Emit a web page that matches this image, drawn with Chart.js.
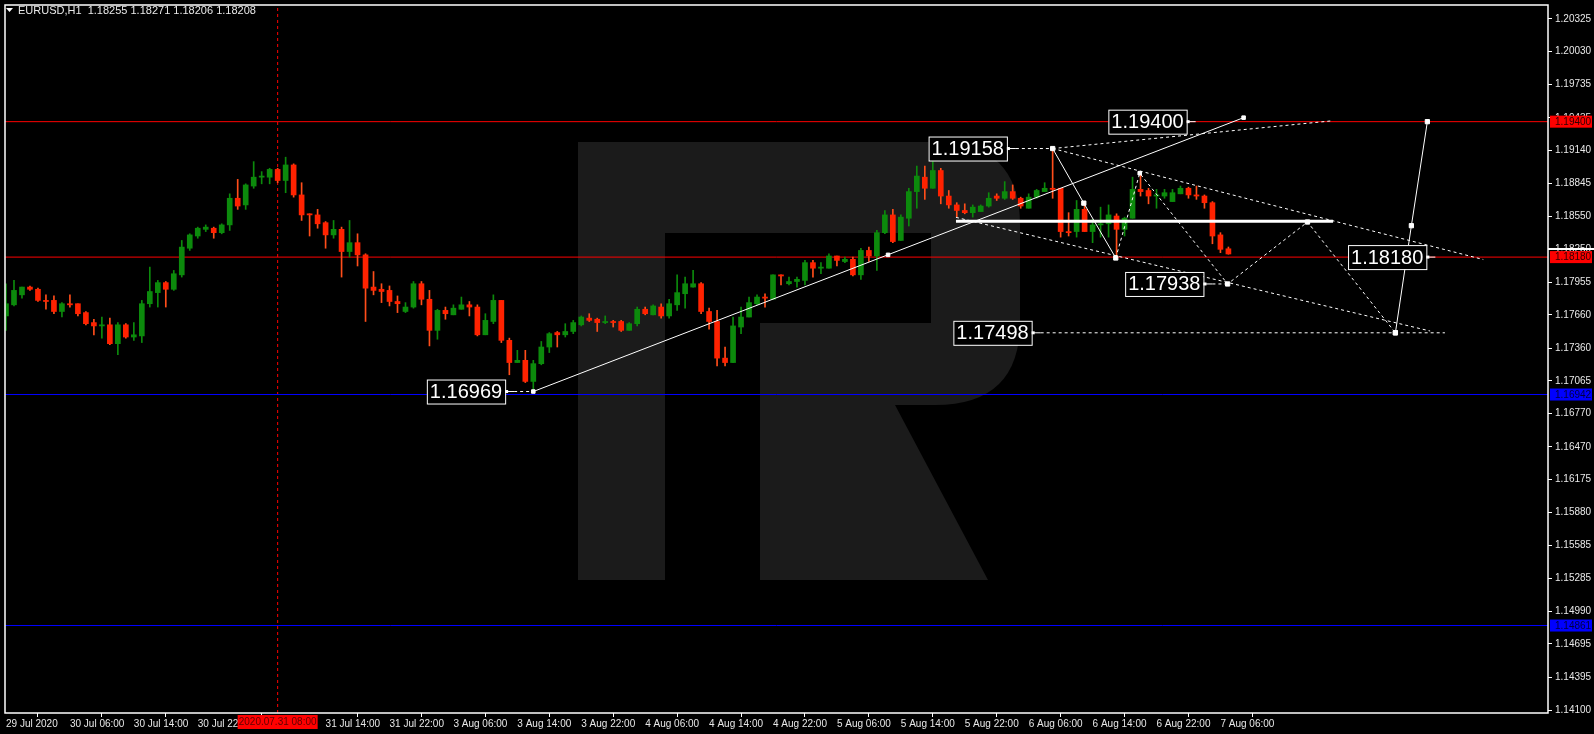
<!DOCTYPE html>
<html><head><meta charset="utf-8">
<script src="https://cdn.jsdelivr.net/npm/chart.js@4.4.1/dist/chart.umd.min.js"></script>
<style>html,body{margin:0;padding:0;background:#000;overflow:hidden}canvas{display:block}</style>
</head><body>
<canvas id="c" width="1594" height="734"></canvas>
<script>
// ---- candle data (H1 EURUSD) ----
const openP = [1.1765,1.1775,1.1784,1.1791,1.1789,1.1779,1.1779,1.1769,1.1776,1.1776,
1.1768,1.1759,1.1756,1.1757,1.1740,1.1757,1.1746,1.1747,1.1776,1.1786,
1.1795,1.1789,1.1802,1.1826,1.1837,1.1843,1.1844,1.1840,1.1847,1.1871,
1.1865,1.1882,1.1890,1.1890,1.1897,1.1887,1.1901,1.1874,1.1857,1.1856,
1.1849,1.1838,1.1843,1.1823,1.1831,1.1820,1.1791,1.1789,1.1788,1.1778,
1.1769,1.1773,1.1794,1.1780,1.1752,1.1770,1.1766,1.1771,1.1775,1.1773,
1.1748,1.1760,1.1779,1.1743,1.1723,1.1725,1.1706,1.1722,1.1737,1.1750,
1.1748,1.1751,1.1757,1.1763,1.1762,1.1759,1.1760,1.1760,1.1752,1.1758,
1.1771,1.1766,1.1773,1.1765,1.1775,1.1785,1.1791,1.1794,1.1769,1.1760,
1.1727,1.1723,1.1755,1.1764,1.1776,1.1782,1.1780,1.1802,1.1794,1.1796,
1.1797,1.1813,1.1808,1.1808,1.1819,1.1814,1.1816,1.1802,1.1824,1.1819,
1.1840,1.1856,1.1833,1.1853,1.1877,1.1890,1.1880,1.1896,1.1873,1.1865,
1.1860,1.1858,1.1859,1.1864,1.1873,1.1871,1.1877,1.1871,1.1862,1.1872,
1.1877,1.1880,1.1880,1.1841,1.1841,1.1861,1.1841,1.1847,1.1848,1.1855,
1.1843,1.1853,1.1879,1.1878,1.1873,1.1873,1.1868,1.1875,1.1880,1.1874,
1.1873,1.1867,1.1838,1.18255];
const highP = [1.1794,1.1797,1.1791,1.1792,1.1790,1.1784,1.1783,1.1777,1.1784,1.1776,
1.1769,1.1762,1.1764,1.1763,1.1759,1.1758,1.1759,1.1779,1.1809,1.1797,
1.1796,1.1806,1.1833,1.1839,1.1845,1.1847,1.1845,1.1848,1.1875,1.1888,
1.1884,1.1904,1.1895,1.1898,1.1898,1.1908,1.1902,1.1885,1.1857,1.1861,
1.1850,1.1851,1.1845,1.1851,1.1839,1.1821,1.1805,1.1794,1.1792,1.1783,
1.1777,1.1796,1.1796,1.1788,1.1771,1.1773,1.1775,1.1782,1.1778,1.1775,
1.1767,1.1784,1.1779,1.1745,1.1734,1.1734,1.1725,1.1742,1.1750,1.1751,
1.1758,1.1761,1.1765,1.1767,1.1763,1.1765,1.1761,1.1761,1.1759,1.1773,
1.1773,1.1775,1.1776,1.1780,1.1802,1.1800,1.1806,1.1795,1.1772,1.1770,
1.1737,1.1764,1.1773,1.1782,1.1784,1.1785,1.1802,1.1802,1.1800,1.1800,
1.1815,1.1815,1.1813,1.1821,1.1819,1.1818,1.1818,1.1826,1.1827,1.1842,
1.1860,1.1861,1.1856,1.1880,1.1900,1.1900,1.1904,1.1898,1.1878,1.1867,
1.1866,1.1865,1.1865,1.1876,1.1875,1.1886,1.1883,1.1872,1.1875,1.1879,
1.1885,1.19158,1.1880,1.1858,1.1869,1.1868,1.1852,1.1863,1.1865,1.1857,
1.1854,1.1890,1.1894,1.1880,1.1879,1.1879,1.1879,1.1882,1.1881,1.1882,
1.1874,1.1868,1.1840,1.18271];
const lowP = [1.1752,1.1774,1.1781,1.1788,1.1778,1.1771,1.1767,1.1764,1.1773,1.1765,
1.1757,1.1748,1.1745,1.1739,1.1730,1.1745,1.1743,1.1741,1.1773,1.1773,
1.1773,1.1788,1.1800,1.1824,1.1835,1.1841,1.1835,1.1839,1.1842,1.1861,
1.1861,1.1880,1.1884,1.1884,1.1885,1.1876,1.1872,1.1851,1.1837,1.1844,
1.1826,1.1835,1.1800,1.1818,1.1810,1.1760,1.1784,1.1777,1.1774,1.1768,
1.1768,1.1772,1.1775,1.1738,1.1744,1.1762,1.1766,1.1771,1.1765,1.1747,
1.1748,1.1758,1.1741,1.1712,1.1723,1.1705,1.16969,1.1721,1.1732,1.1737,
1.1746,1.1749,1.1756,1.1760,1.1751,1.1758,1.1755,1.1751,1.1752,1.1756,
1.1766,1.1766,1.1763,1.1763,1.1770,1.1772,1.1791,1.1767,1.1753,1.1720,
1.1720,1.1723,1.1749,1.1764,1.1775,1.1773,1.1780,1.1793,1.1793,1.1791,
1.1793,1.1800,1.1803,1.1808,1.1810,1.1813,1.1801,1.1798,1.1814,1.1806,
1.1839,1.1831,1.1833,1.1846,1.1862,1.1870,1.1880,1.1866,1.1862,1.1854,
1.1857,1.1854,1.1859,1.1863,1.1869,1.1870,1.1870,1.1862,1.1862,1.1871,
1.1877,1.1871,1.1836,1.1837,1.1836,1.1841,1.1831,1.1836,1.1836,1.1818,
1.1837,1.1853,1.1873,1.1866,1.1862,1.1871,1.1868,1.1875,1.1871,1.1870,
1.1862,1.1830,1.1822,1.18206];
const closeP = [1.1776,1.1788,1.1791,1.1789,1.1779,1.1778,1.1769,1.1776,1.1775,1.1767,
1.1758,1.1756,1.1757,1.1740,1.1757,1.1746,1.1748,1.1776,1.1787,1.1795,
1.1789,1.1803,1.1827,1.1838,1.1844,1.1845,1.1840,1.1847,1.1871,1.1864,
1.1883,1.1890,1.1891,1.1897,1.1887,1.1901,1.1874,1.1856,1.1856,1.1848,
1.1838,1.1843,1.1823,1.1831,1.1820,1.1790,1.1788,1.1787,1.1778,1.1776,
1.1773,1.1794,1.1780,1.1752,1.1770,1.1767,1.1772,1.1775,1.1773,1.1748,
1.1761,1.1779,1.1743,1.1723,1.1725,1.1706,1.1722,1.1737,1.1749,1.1748,
1.1751,1.1759,1.1764,1.1761,1.1759,1.1760,1.1759,1.1752,1.1758,1.1771,
1.1767,1.1774,1.1765,1.1776,1.1786,1.1794,1.1794,1.1769,1.1760,1.1727,
1.1723,1.1756,1.1764,1.1777,1.1782,1.1781,1.1802,1.1801,1.1796,1.1798,
1.1813,1.1808,1.1809,1.1819,1.1815,1.1816,1.1802,1.1824,1.1819,1.1840,
1.1856,1.1832,1.1854,1.1877,1.1891,1.1880,1.1896,1.1873,1.1865,1.1860,
1.1858,1.1863,1.1864,1.1871,1.1871,1.1877,1.1871,1.1864,1.1872,1.1878,
1.1880,1.1879,1.1841,1.1840,1.1861,1.1841,1.1847,1.1848,1.1856,1.1843,
1.1853,1.1879,1.1877,1.1873,1.1874,1.1876,1.1876,1.1880,1.1874,1.1873,
1.1867,1.1837,1.1825,1.18208];

// ---- axis ticks ----
const priceTicks = [1.20325,1.20030,1.19735,1.19435,1.19140,1.18845,1.18550,1.18250,1.17955,1.17660,1.17360,1.17065,1.16770,1.16470,1.16175,1.15880,1.15585,1.15285,1.14990,1.14695,1.14395,1.14100];
const timeTickIdx = [0,8,16,24,40,48,56,64,72,80,88,96,104,112,120,128,136,144,152];
const timeTickLabels = ["29 Jul 2020","30 Jul 06:00","30 Jul 14:00","30 Jul 22:00","31 Jul 14:00","31 Jul 22:00","3 Aug 06:00","3 Aug 14:00","3 Aug 22:00","4 Aug 06:00","4 Aug 14:00","4 Aug 22:00","5 Aug 06:00","5 Aug 14:00","5 Aug 22:00","6 Aug 06:00","6 Aug 14:00","6 Aug 22:00","7 Aug 06:00"];
const cursorIdx = 34, cursorLabel = "2020.07.31 08:00";
const header = "EURUSD,H1  1.18255 1.18271 1.18206 1.18208";

// ---- levels ----
const redLevels = [1.19400, 1.18180];
const blueLevels = [1.16942, 1.14861];
const currentPrice = 1.18208;

// ---- drawn analysis lines (index, price) ----
const trendX = [66, 154.9], trendY = [1.16969, 1.19436];
const trendMarkX = [66, 110.4, 154.9], trendMarkY = [1.16969, 1.1820, 1.19436];
const rangeX = [118.9, 166.1], rangeY = [1.18502, 1.18502];
const upperX = [131, 165.75], upperY = [1.19158, 1.19406];
const descX = [131, 184.9], descY = [1.19158, 1.18158];
const lowerX = [118.9, 178.25], lowerY = [1.18538, 1.17514];
const dropX = [131, 134.9, 138.9], dropY = [1.19158, 1.18666, 1.18172];
const zigX = [138.9, 141.9, 152.9, 162.9, 173.9], zigY = [1.18172, 1.18936, 1.17938, 1.18496, 1.17498];
const finalX = [173.9, 175.9, 177.9], finalY = [1.17498, 1.18463, 1.19400];
const tailX = [[126.4,131],[151,152.9],[63.6,66]], tailY = [[1.19158,1.19158],[1.17938,1.17938],[1.16969,1.16969]];
const targetLineX = [129.5, 180.1], targetLineY = [1.17498, 1.17498];
const boxLabels = ["1.16969","1.19158","1.19400","1.17938","1.17498","1.18180"];
const boxIdx = [63.6, 126.4, 148.9, 151, 129.5, 178.9];
const boxPrice = [1.16969, 1.19158, 1.19400, 1.17938, 1.17498, 1.18180];

const idx = openP.map((_, i) => i);
const isUp = i => closeP[i] >= openP[i];
const RED = '#ff2200', REDW = '#ff4d1a', GREEN = '#0c8a0c';

function lineDs(xs, ys, opt) {
  return Object.assign({type:'line', data: xs.map((x,i)=>({x, y: ys[i]})), borderColor:'#ffffff', borderWidth:1,
    pointRadius:0, fill:false, tension:0, order:0}, opt||{});
}
const X0 = -0.125, X1 = 193;
const datasets = [
  {type:'bar', data: idx.map(i=>({x:i, y:[lowP[i], highP[i]]})), backgroundColor: idx.map(i=>isUp(i)?GREEN:REDW),
   barThickness:1, grouped:false, order:3},
  {type:'bar', data: idx.map(i=>({x:i, y:[openP[i], closeP[i]]})), backgroundColor: idx.map(i=>isUp(i)?GREEN:RED),
   barThickness:5, minBarLength:1, grouped:false, order:2},
];
redLevels.forEach(p => datasets.push(lineDs([X0,X1],[p,p],{borderColor:'#ff0000', order:4})));
blueLevels.forEach(p => datasets.push(lineDs([X0,X1],[p,p],{borderColor:'#0000ff', order:4})));
datasets.push(lineDs([cursorIdx,cursorIdx],[1.14073,1.20451],{borderColor:'#ff0000', borderDash:[3,3], order:4}));
datasets.push(lineDs(trendX, trendY));
datasets.push(lineDs(trendMarkX, trendMarkY, {showLine:false, pointStyle:'rect', pointRadius:2.5, pointBackgroundColor:'#fff', pointBorderColor:'#fff'}));
datasets.push(lineDs(rangeX, rangeY, {borderWidth:3}));
datasets.push(lineDs(upperX, upperY, {borderDash:[3,3]}));
datasets.push(lineDs(descX, descY, {borderDash:[3,3]}));
datasets.push(lineDs(lowerX, lowerY, {borderDash:[3,3]}));
datasets.push(lineDs(dropX, dropY, {pointStyle:'rect', pointRadius:[3,3,3], pointBackgroundColor:'#fff'}));
datasets.push(lineDs(zigX, zigY, {borderDash:[3,3], pointStyle:'rect', pointRadius:[0,2.5,3,3,3], pointBackgroundColor:'#fff'}));
datasets.push(lineDs(finalX, finalY, {pointStyle:'rect', pointRadius:[3,3,3], pointBackgroundColor:'#fff'}));
tailX.forEach((xs,k)=>datasets.push(lineDs(xs, tailY[k], {borderDash:[3,3]})));
datasets.push(lineDs(targetLineX, targetLineY, {borderDash:[3,3]}));

const decor = {
  id:'decor',
  beforeDatasetsDraw(chart){
    const c = chart.ctx; c.save();
    c.fillStyle = '#1b1b1b';
    c.beginPath();
    c.moveTo(578,142); c.lineTo(935,142); c.quadraticCurveTo(1020,142,1020,225);
    c.lineTo(1020,322); c.quadraticCurveTo(1020,405,935,405); c.lineTo(578,405); c.closePath(); c.fill();
    c.fillRect(578,142,87,438);
    c.beginPath(); c.moveTo(760,405); c.lineTo(895,405); c.lineTo(988,580); c.lineTo(760,580); c.closePath(); c.fill();
    c.fillStyle = '#000';
    c.fillRect(665,233,266,90); c.fillRect(665,323,95,257);
    c.restore();
  },
  afterDatasetsDraw(chart){
    const c = chart.ctx, xs = chart.scales.x, ys = chart.scales.y, a = chart.chartArea;
    c.save();
    c.font = '20px "Liberation Sans"'; c.textBaseline = 'middle';
    boxLabels.forEach((t,k)=>{
      const tx = xs.getPixelForValue(boxIdx[k]), ty = ys.getPixelForValue(boxPrice[k]);
      const w = c.measureText(t).width + 6, h = 24, bx = tx - 9 - w;
      c.strokeStyle = '#fff'; c.lineWidth = 1;
      c.beginPath(); c.moveTo(bx+w, ty); c.lineTo(tx, ty); c.stroke();
      c.fillStyle = '#000'; c.fillRect(bx, ty-h/2, w, h);
      c.strokeRect(bx+0.5, ty-h/2+0.5, w, h);
      c.fillStyle = '#fff'; c.textAlign = 'left'; c.fillText(t, bx+3, ty+1);
      c.fillRect(bx+w, ty-1.5, 3, 3);
    });
    c.strokeStyle = '#fff'; c.lineWidth = 1.5;
    c.strokeRect(a.left, a.top, a.right-a.left, a.bottom-a.top);
    c.fillStyle = '#fff';
    c.beginPath(); c.moveTo(6,8); c.lineTo(13,8); c.lineTo(9.5,12); c.closePath(); c.fill();
    c.font = '11px "Liberation Sans"'; c.textAlign='left'; c.fillStyle='#e8e8e8';
    c.fillText(header, 18, 10.5);
    c.font = '10px "Liberation Sans"';
    const pb = (p, bg, fg) => { const y = ys.getPixelForValue(p); c.fillStyle = bg; c.fillRect(a.right+2, y-6, 42, 12); c.fillStyle = fg; c.fillText(p.toFixed(5), a.right+7, y+0.5); };
    const cy = ys.getPixelForValue(currentPrice);
    c.fillStyle='#fff'; c.fillRect(a.right, cy-6, 46, 2);
    redLevels.forEach(p => pb(p, '#ff0000', '#300000'));
    blueLevels.forEach(p => pb(p, '#0000ff', '#000040'));
    const cx = xs.getPixelForValue(cursorIdx);
    c.fillStyle = '#ff0000'; c.fillRect(cx-40, a.bottom+2, 80, 14);
    c.fillStyle = '#600000'; c.textAlign = 'center'; c.fillText(cursorLabel, cx, a.bottom+9.5);
    c.restore();
  }
};

new Chart(document.getElementById('c'), {
  type:'bar',
  data:{datasets},
  plugins:[decor],
  options:{
    responsive:false, animation:false, devicePixelRatio:1,
    layout:{padding:{left:3, top:3, right:0, bottom:0}},
    plugins:{legend:{display:false}, tooltip:{enabled:false}},
    scales:{
      x:{type:'linear', min:X0, max:X1, offset:false,
        border:{display:false},
        grid:{display:true, drawOnChartArea:false, drawTicks:true, tickLength:4, color:'#ffffff'},
        afterBuildTicks: s => { s.ticks = timeTickIdx.map(v=>({value:v})); },
        afterFit: s => { s.height = 21; s.paddingLeft = 0; s.paddingRight = 0; },
        ticks:{autoSkip:false, maxRotation:0, align:'start', padding:1, color:'#e8e8e8', font:{family:'Liberation Sans', size:10},
          callback: v => timeTickLabels[timeTickIdx.indexOf(v)] }},
      y:{type:'linear', position:'right', min:1.14073, max:1.20451,
        border:{display:false},
        grid:{display:true, drawOnChartArea:false, drawTicks:true, tickLength:4, color:'#ffffff'},
        afterBuildTicks: s => { s.ticks = priceTicks.map(v=>({value:v})); },
        afterFit: s => { s.width = 46; s.paddingTop = 0; s.paddingBottom = 0; },
        ticks:{padding:3, color:'#e8e8e8', font:{family:'Liberation Sans', size:10}, callback: v => v.toFixed(5)}}
    }
  }
});
</script>
</body></html>
